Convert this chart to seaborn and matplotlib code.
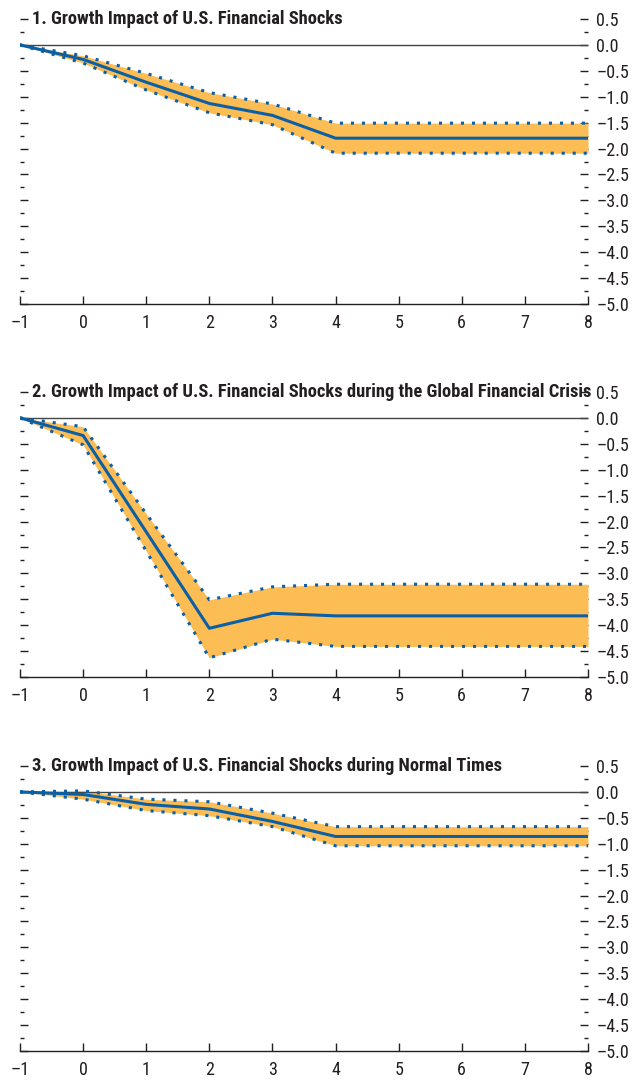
import numpy as np
import pandas as pd
import seaborn as sns
import matplotlib.pyplot as plt
from matplotlib.ticker import MultipleLocator, FuncFormatter

# Data
horizon = [-1, 0, 1, 2, 3, 4, 5, 6, 7, 8]

p1_mid = [0, -0.28, -0.72, -1.13, -1.36, -1.80, -1.80, -1.80, -1.80, -1.80]
p1_hi = [0, -0.21, -0.55, -0.92, -1.14, -1.51, -1.51, -1.51, -1.51, -1.51]
p1_lo = [0, -0.35, -0.87, -1.31, -1.54, -2.09, -2.09, -2.09, -2.09, -2.09]

p2_mid = [0, -0.34, -2.20, -4.06, -3.77, -3.82, -3.82, -3.82, -3.82, -3.82]
p2_hi = [0, -0.17, -1.85, -3.51, -3.26, -3.21, -3.21, -3.21, -3.21, -3.21]
p2_lo = [0, -0.52, -2.57, -4.63, -4.27, -4.41, -4.41, -4.41, -4.41, -4.41]

p3_mid = [0, -0.05, -0.24, -0.33, -0.57, -0.86, -0.86, -0.86, -0.86, -0.86]
p3_hi = [0, 0.02, -0.14, -0.19, -0.41, -0.67, -0.67, -0.67, -0.67, -0.67]
p3_lo = [0, -0.14, -0.36, -0.46, -0.67, -1.04, -1.04, -1.04, -1.04, -1.04]

titles = [
    "1. Growth Impact of U.S. Financial Shocks",
    "2. Growth Impact of U.S. Financial Shocks during the Global Financial Crisis",
    "3. Growth Impact of U.S. Financial Shocks during Normal Times",
]
panels = [(p1_mid, p1_lo, p1_hi), (p2_mid, p2_lo, p2_hi), (p3_mid, p3_lo, p3_hi)]

band_color = "#FDBD55"
line_color = "#0B5FA5"
ink = "#231F20"

sns.set_style("ticks")
plt.rcParams['font.family'] = ['Roboto Condensed', 'DejaVu Sans']

# en dash for negative numbers, like the original
yfmt = FuncFormatter(lambda v, pos: '{:.1f}'.format(v).replace('-', '\u2013'))
xfmt = FuncFormatter(lambda v, pos: '{:d}'.format(int(round(v))).replace('-', '\u2013'))

fig = plt.figure(figsize=(6.33, 10.83), dpi=100)
left = 20 / 633
width = 568 / 633
height = 285 / 1083
bottoms = [1 - 304 / 1083, 1 - 677 / 1083, 1 - 1051 / 1083]

for i, (mid, lo, hi) in enumerate(panels):
    ax = fig.add_axes([left, bottoms[i], width, height])
    df = pd.DataFrame({'h': horizon, 'mid': mid, 'lo': lo, 'hi': hi})

    ax.fill_between(df['h'], df['lo'], df['hi'], color=band_color, lw=0, zorder=1)
    ax.axhline(0, color='#444444', lw=1.0, zorder=2)
    sns.lineplot(data=df, x='h', y='hi', ax=ax, color=line_color, lw=2.2,
                 linestyle=(0, (1, 2.6)), zorder=3)
    sns.lineplot(data=df, x='h', y='lo', ax=ax, color=line_color, lw=2.2,
                 linestyle=(0, (1, 2.6)), zorder=3)
    sns.lineplot(data=df, x='h', y='mid', ax=ax, color=line_color, lw=2.2, zorder=4)

    ax.set_xlim(-1, 8)
    ax.set_ylim(-5.0, 0.5)
    ax.set_xlabel('')
    ax.set_ylabel('')

    for s in ['top', 'left', 'right']:
        ax.spines[s].set_visible(False)
    ax.spines['bottom'].set_linewidth(1.0)
    ax.spines['bottom'].set_color(ink)

    ax.xaxis.set_major_locator(MultipleLocator(1))
    ax.xaxis.set_major_formatter(xfmt)
    ax.yaxis.set_major_locator(MultipleLocator(0.5))
    ax.yaxis.set_minor_locator(MultipleLocator(0.25))
    ax.yaxis.set_major_formatter(yfmt)

    ax.tick_params(axis='x', direction='in', length=6, width=1, color=ink,
                   pad=7, labelsize=13, labelcolor=ink)
    ax.tick_params(axis='y', which='major', direction='in', left=True, right=True,
                   labelleft=False, labelright=True, length=6, width=1,
                   color=ink, pad=6, labelsize=13, labelcolor=ink)
    ax.tick_params(axis='y', which='minor', direction='in', left=True, right=True,
                   length=3, width=1, color=ink)

    ax.text(0.022, 1.0, titles[i], transform=ax.transAxes, ha='left', va='center',
            fontsize=13.3, fontweight='bold', color=ink)

fig.savefig('out.png', dpi=100)
